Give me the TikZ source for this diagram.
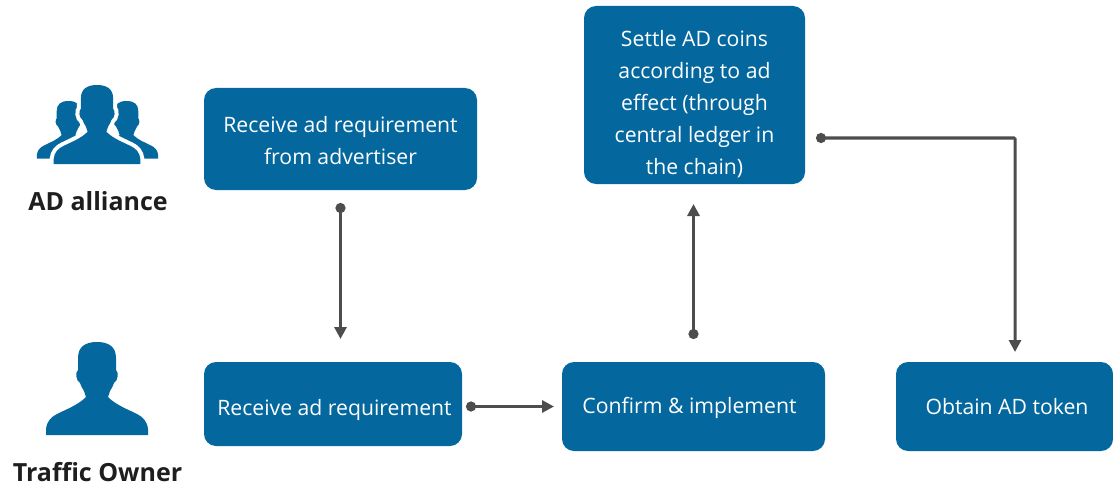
\documentclass[tikz,border=0pt]{standalone}
\usepackage{fontspec}
\setmainfont{Open Sans}
\usetikzlibrary{arrows.meta}
\definecolor{adblue}{HTML}{04689F}
\definecolor{adline}{HTML}{4D4D4D}
\definecolor{adtext}{HTML}{1E1E1E}
\newcommand{\personshape}{
  (-51,93) -- (-51,87) .. controls (-50,79) and (-46,75) .. (-40,72)
  .. controls (-30,67) and (-19,63) .. (-11,55) -- (-13,49)
  .. controls (-15,46) and (-16,44) .. (-17,41)
  .. controls (-21,39) and (-22,30) .. (-19,28)
  -- (-19,16) .. controls (-19,5) and (-12,0) .. (0,0)
  .. controls (12,0) and (19,5) .. (19,16)
  -- (19,28) .. controls (22,30) and (21,39) .. (17,41)
  .. controls (16,44) and (15,46) .. (13,49) -- (11,55)
  .. controls (19,63) and (30,67) .. (40,72)
  .. controls (46,75) and (50,79) .. (51,87) -- (51,93) -- cycle}
\newcommand{\topsp}[1]{\rule{0pt}{#1pt}}
\tikzset{
  box/.style={draw=none,fill=adblue,rounded corners=12pt,inner sep=0pt,text=white,align=center,
    font=\fontsize{21.2}{32}\selectfont},
  actor/.style={text=adtext,inner sep=0pt,font=\fontsize{25}{28}\selectfont\bfseries},
  conn/.style={draw=adline,line width=3pt,{Circle[length=10pt,width=10pt]}-{Triangle[length=12pt,width=12pt]}},
  elbow/.style={conn,rounded corners=1pt}
}
\begin{document}
\begin{tikzpicture}[x=1pt,y=-1pt]
\useasboundingbox (0,0) rectangle (1113,492);
% actors
\begin{scope}[shift={(68.5,101)},scale=0.62]
  \fill[adblue] \personshape;
\end{scope}
\begin{scope}[shift={(126.5,101)},scale=0.62]
  \fill[adblue] \personshape;
\end{scope}
\begin{scope}[shift={(97,85)},scale=0.85]
  \draw[white,line width=8pt] \personshape;
  \fill[adblue] \personshape;
\end{scope}
\begin{scope}[shift={(97,342)}]
  \fill[adblue] \personshape;
\end{scope}
\node[actor] (alliance) at (98,201) {AD alliance};
\node[actor] (owner) at (97.5,472) {Traffic Owner};
% boxes
\node[box,minimum width=273pt,minimum height=102pt] (adv) at (340.5,139) {\topsp{20}Receive ad requirement\\from advertiser};
\node[box,minimum width=258pt,minimum height=84pt] (recv) at (333,404) {\topsp{28}\hspace*{3pt}Receive ad requirement};
\node[box,minimum width=263pt,minimum height=89pt] (conf) at (693.5,406.5) {\topsp{20}Confirm \& implement\hspace*{8pt}};
\node[box,minimum width=217pt,minimum height=89pt] (tok) at (1004.5,406.5) {\hspace*{5pt}Obtain AD token};
\node[box,minimum width=221pt,minimum height=178pt] (settle) at (694.5,95) {\topsp{34}Settle AD coins\\according to ad\\effect (through\\central ledger in\\the chain)};
% connector ends
\coordinate (a1) at (340.5,203);
\coordinate (a2) at (340.5,339);
\coordinate (b1) at (466,406.5);
\coordinate (b2) at (554,406.5);
\coordinate (c1) at (693.5,339);
\coordinate (c2) at (693.5,204);
\coordinate (d1) at (816,138);
\coordinate (d2) at (1015,138);
\coordinate (d3) at (1015,352);
\draw[conn] (a1) -- (a2);
\draw[conn] (b1) -- (b2);
\draw[conn] (c1) -- (c2);
\draw[elbow] (d1) -- (d2) -- (d3);
\end{tikzpicture}
\end{document}
